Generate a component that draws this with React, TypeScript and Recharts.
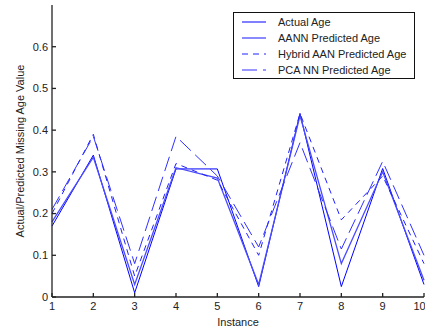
import React from 'react';
import { LineChart, Line, XAxis, YAxis } from 'recharts';

const instances = [1, 2, 3, 4, 5, 6, 7, 8, 9, 10];
const actualAge = [0.17, 0.34, 0.01, 0.307, 0.307, 0.025, 0.44, 0.025, 0.308, 0.03];
const aannAge = [0.18, 0.335, 0.03, 0.31, 0.285, 0.03, 0.435, 0.08, 0.3, 0.04];
const hybridAge = [0.2, 0.39, 0.05, 0.32, 0.28, 0.1, 0.44, 0.185, 0.29, 0.08];
const pcaAge = [0.21, 0.385, 0.08, 0.385, 0.29, 0.12, 0.37, 0.115, 0.325, 0.1];
const yTicks = [0, 0.1, 0.2, 0.3, 0.4, 0.5, 0.6];

const chartData = instances.map((x, i) => ({
  x,
  actual: actualAge[i],
  aann: aannAge[i],
  hybrid: hybridAge[i],
  pca: pcaAge[i],
}));

const series = [
  { key: 'actual', name: 'Actual Age', color: '#0000ff', width: 1, dash: undefined },
  { key: 'aann', name: 'AANN Predicted Age', color: '#4b4bff', width: 1.3, dash: undefined },
  { key: 'hybrid', name: 'Hybrid AAN Predicted Age', color: '#2020ff', width: 1, dash: '6 5' },
  { key: 'pca', name: 'PCA NN Predicted Age', color: '#3030ff', width: 1, dash: '15 6' },
];

const font = 'Arial, "Liberation Sans", sans-serif';
const axisColor = '#222';

// legend box drawn over the plot, like the matlab one
const LegendBox = () => (
  <div
    style={{
      position: 'absolute',
      left: 233,
      top: 12,
      border: '1.5px solid #111',
      background: '#fff',
      width: 182,
      height: 67,
      boxSizing: 'border-box',
      paddingTop: 1,
      fontFamily: font,
      fontSize: 11,
      color: '#222',
      whiteSpace: 'nowrap',
    }}
  >
    {series.map((s) => (
      <div key={s.key} style={{ display: 'flex', alignItems: 'center', height: 16 }}>
        <svg width={38} height={10} style={{ marginLeft: 6 }}>
          <line
            x1={2}
            y1={5}
            x2={26}
            y2={5}
            stroke={s.color}
            strokeWidth={s.width}
            strokeDasharray={s.dash}
          />
        </svg>
        <span>{s.name}</span>
      </div>
    ))}
  </div>
);

export default function App() {
  return (
    <div style={{ position: 'absolute', left: 0, top: 0, width: 425, height: 331, background: '#fff' }}>
      <LineChart
        width={425}
        height={331}
        data={chartData}
        margin={{ top: 5, right: 1, left: 0, bottom: 0 }}
      >
        <XAxis
          dataKey="x"
          type="number"
          domain={[1, 10]}
          ticks={instances}
          height={34}
          tickSize={-4}
          tickMargin={9}
          stroke={axisColor}
          strokeWidth={1.3}
          tick={{ fill: axisColor, fontSize: 11, fontFamily: font }}
          label={{
            value: 'Instance',
            position: 'insideBottom',
            offset: 5,
            fill: axisColor,
            fontSize: 11,
            fontFamily: font,
          }}
        />
        <XAxis
          xAxisId="top"
          orientation="top"
          type="number"
          domain={[1, 10]}
          ticks={instances}
          height={0}
          tickSize={-4}
          tickFormatter={() => ''}
          stroke={axisColor}
          strokeWidth={1.3}
        />
        <YAxis
          type="number"
          domain={[0, 0.7]}
          ticks={yTicks}
          width={52}
          tickSize={-4}
          tickMargin={8}
          stroke={axisColor}
          strokeWidth={1.3}
          tick={{ fill: axisColor, fontSize: 11, fontFamily: font }}
          label={{
            value: 'Actual/Predicted Missing Age Value',
            angle: -90,
            position: 'center',
            dx: -6,
            fill: axisColor,
            fontSize: 11,
            fontFamily: font,
          }}
        />
        <YAxis
          yAxisId="right"
          orientation="right"
          type="number"
          domain={[0, 0.7]}
          ticks={yTicks}
          width={0}
          tickSize={-4}
          tickFormatter={() => ''}
          stroke={axisColor}
          strokeWidth={1.3}
        />
        {series.map((s) => (
          <Line
            key={s.key}
            type="linear"
            dataKey={s.key}
            name={s.name}
            stroke={s.color}
            strokeWidth={s.width}
            strokeDasharray={s.dash}
            dot={false}
            isAnimationActive={false}
          />
        ))}
      </LineChart>
      <LegendBox />
    </div>
  );
}
